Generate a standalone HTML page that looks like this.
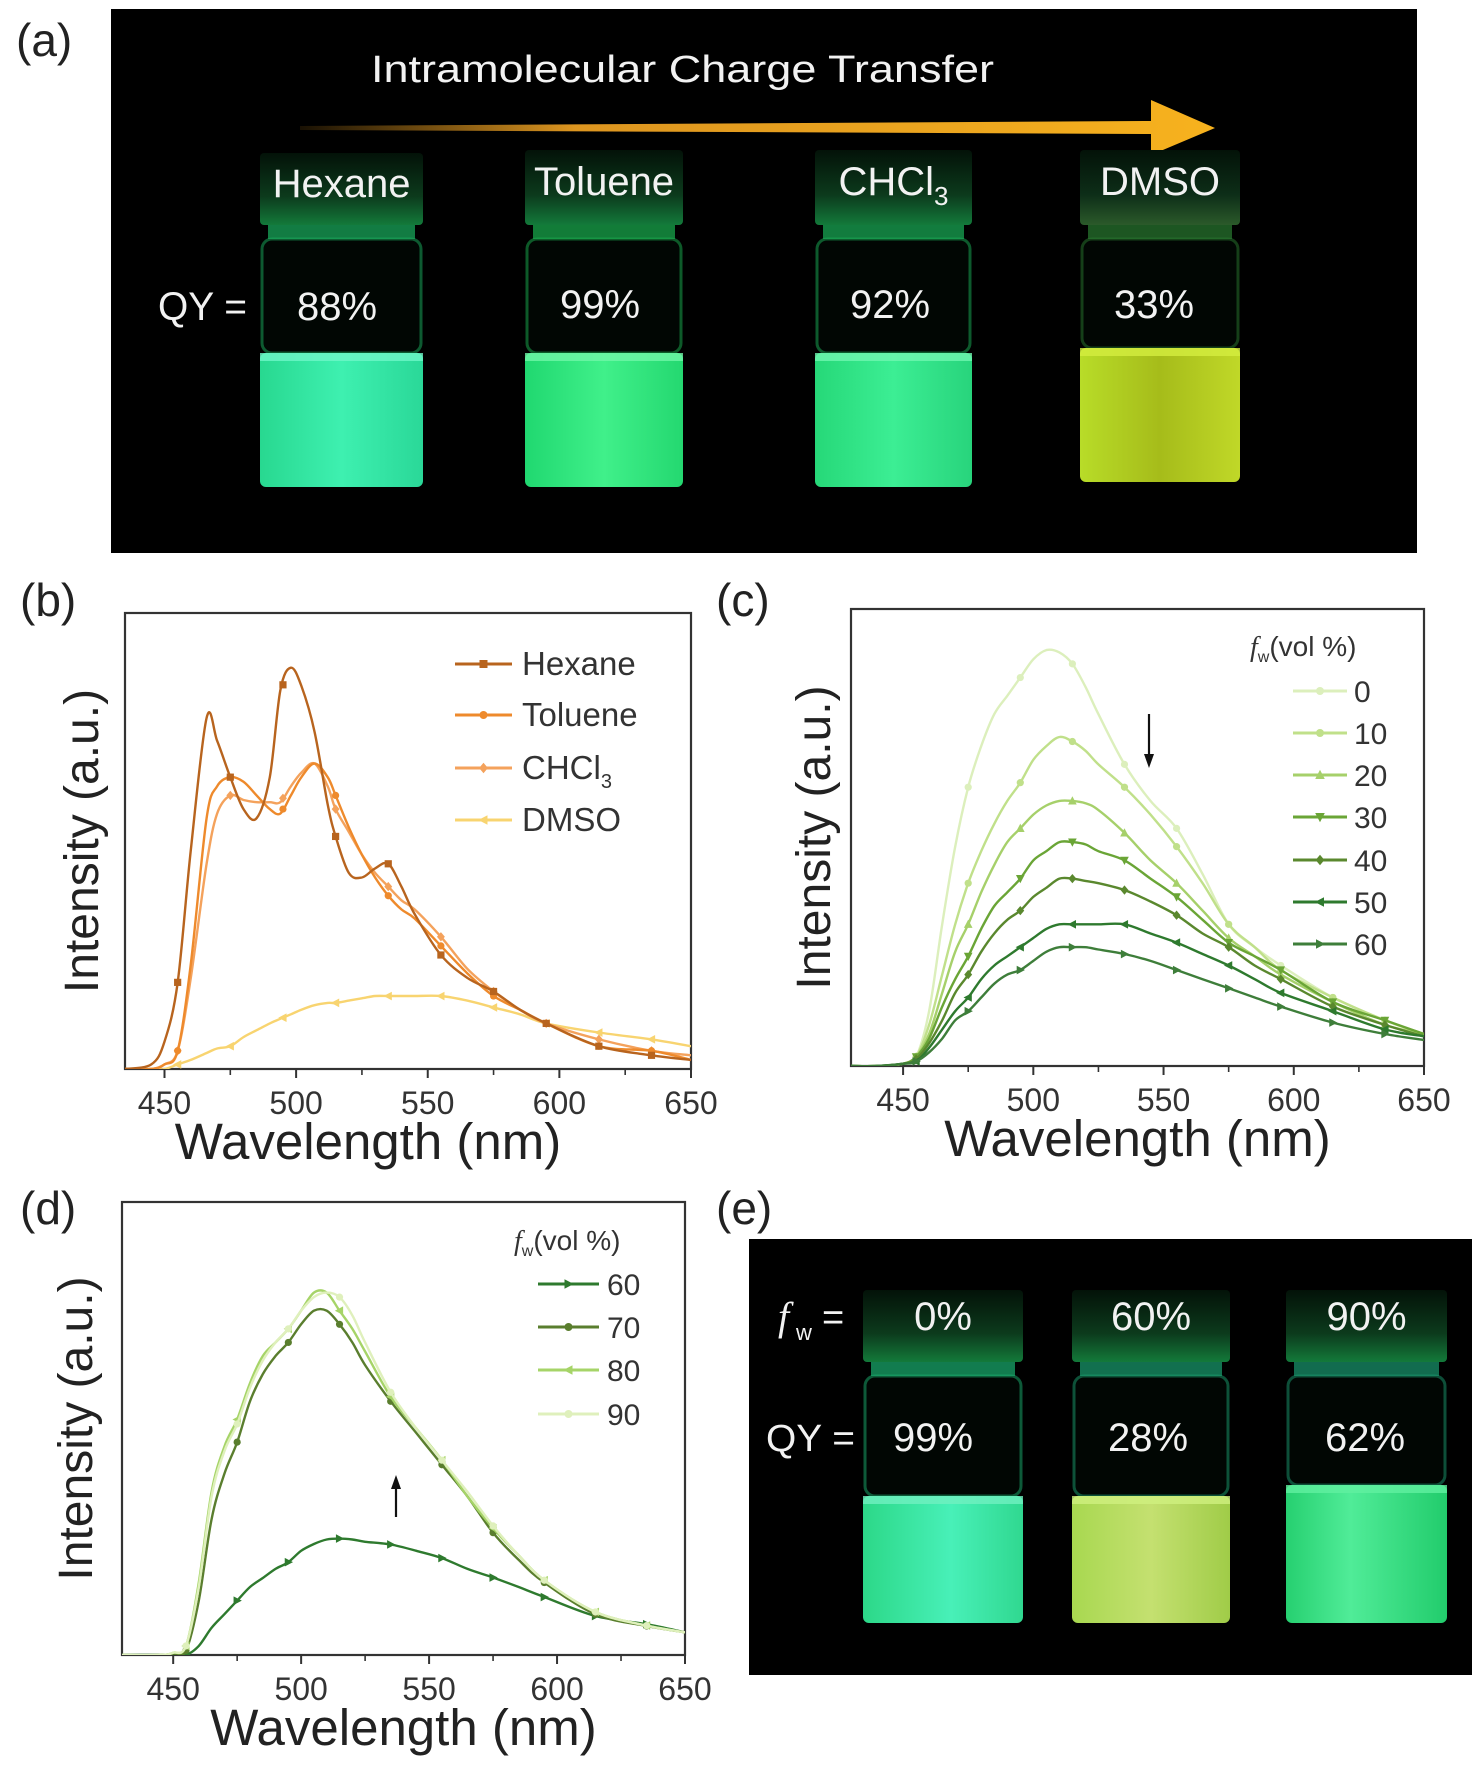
<!DOCTYPE html>
<html><head><meta charset="utf-8">
<style>
html,body{margin:0;padding:0;background:#fff;}
svg{display:block;font-family:"Liberation Sans",sans-serif;}
</style></head>
<body>
<svg id="fig" width="1476" height="1778" viewBox="0 0 1476 1778" xmlns="http://www.w3.org/2000/svg">
<defs>
  <linearGradient id="arrowGrad" x1="0" x2="1" y1="0" y2="0">
    <stop offset="0" stop-color="#f5a623" stop-opacity="0.1"/>
    <stop offset="0.3" stop-color="#f5a623" stop-opacity="0.9"/>
    <stop offset="1" stop-color="#f7b21e"/>
  </linearGradient>
  <linearGradient id="capGrad" x1="0" x2="0" y1="0" y2="1">
    <stop offset="0" stop-color="#031208"/>
    <stop offset="0.6" stop-color="#0c3a1c"/>
    <stop offset="1" stop-color="#137a3a"/>
  </linearGradient>
  <linearGradient id="capGradY" x1="0" x2="0" y1="0" y2="1">
    <stop offset="0" stop-color="#031208"/>
    <stop offset="0.6" stop-color="#0d2e18"/>
    <stop offset="1" stop-color="#2b5a2a"/>
  </linearGradient>
  <linearGradient id="liqHex" x1="0" x2="1"><stop offset="0" stop-color="#28d890"/><stop offset="0.5" stop-color="#3ef0b0"/><stop offset="1" stop-color="#2ad898"/></linearGradient>
  <linearGradient id="liqTol" x1="0" x2="1"><stop offset="0" stop-color="#20d870"/><stop offset="0.5" stop-color="#40f08a"/><stop offset="1" stop-color="#24d870"/></linearGradient>
  <linearGradient id="liqChc" x1="0" x2="1"><stop offset="0" stop-color="#26d878"/><stop offset="0.5" stop-color="#3cee94"/><stop offset="1" stop-color="#28d47c"/></linearGradient>
  <linearGradient id="liqDms" x1="0" x2="1"><stop offset="0" stop-color="#b8dc28"/><stop offset="0.5" stop-color="#a6bc1a"/><stop offset="1" stop-color="#c0d828"/></linearGradient>
  <linearGradient id="liqE0" x1="0" x2="1"><stop offset="0" stop-color="#2cd888"/><stop offset="0.55" stop-color="#48f0b8"/><stop offset="1" stop-color="#30d890"/></linearGradient>
  <linearGradient id="liqE60" x1="0" x2="1"><stop offset="0" stop-color="#a8d850"/><stop offset="0.5" stop-color="#c4e070"/><stop offset="1" stop-color="#a0cc48"/></linearGradient>
  <linearGradient id="liqE90" x1="0" x2="1"><stop offset="0" stop-color="#26d070"/><stop offset="0.4" stop-color="#50ec98"/><stop offset="1" stop-color="#22cc6c"/></linearGradient>
</defs>

<!-- Panel labels -->
<text x="16" y="56" font-size="46" fill="#222">(a)</text>
<text x="20" y="616" font-size="46" fill="#222">(b)</text>
<text x="716" y="616" font-size="46" fill="#222">(c)</text>
<text x="20" y="1224" font-size="46" fill="#222">(d)</text>
<text x="716" y="1224" font-size="46" fill="#222">(e)</text>

<!-- Panel a photo -->
<g>
  <rect x="111" y="9" width="1306" height="544" fill="#000"/>
  <text x="371" y="82" font-size="38" fill="#f2f2f2" textLength="623" lengthAdjust="spacingAndGlyphs">Intramolecular Charge Transfer</text>
  <polygon points="300,126 1151,121 1151,100 1215,128 1151,155 1151,134 300,130" fill="url(#arrowGrad)"/>
  <g id="vialsA"></g>
  <text x="158" y="320" font-size="40" fill="#f2f2f2" textLength="89" lengthAdjust="spacingAndGlyphs">QY =</text>
</g>

<!-- Panel e photo -->
<g>
  <rect x="749" y="1239" width="723" height="436" fill="#000"/>
  <g id="vialsE"></g>
  <text x="778" y="1330" font-size="40" fill="#f2f2f2" font-style="italic" font-family="Liberation Serif, serif">f</text>
  <text x="796" y="1340" font-size="22" fill="#f2f2f2">w</text>
  <text x="822" y="1330" font-size="38" fill="#f2f2f2">=</text>
  <text x="766" y="1451" font-size="38" fill="#f2f2f2" textLength="89" lengthAdjust="spacingAndGlyphs">QY =</text>
</g>

<g id="chartB"></g>
<g id="chartC"></g>
<g id="chartD"></g>
</svg>

<script>
// ---------- Panel b data ----------
const bWavelengths = [435,445,450,455,460,466,470,475,480,485,490,494,498,502,507,512,515,520,525,530,535,540,545,555,565,575,585,595,615,635,650];
const bHexane  = [0,.01,.06,.19,.48,.77,.72,.64,.57,.55,.64,.83,.88,.84,.74,.58,.51,.43,.42,.44,.45,.40,.34,.25,.20,.17,.13,.10,.05,.03,.02];
const bToluene = [0,0,.01,.04,.23,.55,.62,.64,.63,.60,.57,.56,.60,.64,.67,.64,.60,.53,.47,.42,.38,.35,.33,.27,.21,.16,.13,.10,.05,.04,.02];
const bCHCl3   = [0,0,.01,.04,.20,.45,.56,.60,.59,.585,.585,.585,.62,.65,.67,.62,.57,.52,.47,.43,.40,.37,.35,.29,.22,.17,.13,.10,.065,.04,.03];
const bDMSO    = [0,0,0,.01,.02,.035,.045,.05,.07,.085,.10,.11,.12,.13,.14,.145,.145,.15,.155,.16,.16,.16,.16,.16,.15,.135,.12,.10,.08,.065,.05];
const bLabels  = ["Hexane","Toluene","CHCl3","DMSO"];
// ---------- Panel c data ----------
const cWavelengths = [430,440,450,455,460,465,470,475,480,485,490,495,500,505,510,515,520,525,535,545,555,565,575,585,595,615,635,650];
const c0  = [0,0,.005,.02,.12,.31,.48,.61,.70,.77,.81,.85,.89,.91,.905,.88,.83,.77,.66,.58,.52,.42,.31,.26,.22,.15,.10,.07];
const c10 = [0,0,.005,.02,.09,.20,.31,.40,.47,.53,.58,.62,.67,.70,.72,.71,.69,.66,.61,.55,.48,.40,.31,.26,.21,.15,.10,.07];
const c20 = [0,0,.005,.02,.07,.16,.25,.31,.38,.44,.49,.52,.55,.57,.58,.58,.575,.56,.51,.45,.40,.34,.28,.24,.20,.14,.09,.07];
const c30 = [0,0,.005,.02,.06,.13,.19,.24,.30,.35,.38,.41,.45,.47,.49,.49,.485,.47,.45,.41,.37,.32,.27,.24,.21,.14,.10,.07];
const c40 = [0,0,.005,.015,.05,.10,.16,.20,.25,.29,.32,.34,.37,.39,.41,.41,.405,.40,.385,.36,.33,.29,.26,.22,.19,.13,.09,.065];
const c50 = [0,0,.005,.01,.04,.08,.12,.15,.19,.22,.24,.26,.28,.30,.31,.31,.31,.31,.31,.29,.27,.245,.22,.19,.16,.12,.08,.065];
const c60 = [0,0,.005,.01,.03,.06,.10,.12,.15,.18,.20,.21,.23,.25,.26,.26,.26,.255,.245,.23,.21,.19,.17,.15,.13,.095,.07,.057];
const cLabels = ["0","10","20","30","40","50","60"];
// ---------- Panel d data ----------
const dWavelengths = [430,445,450,455,460,465,470,475,480,485,490,495,500,505,510,515,520,525,535,545,555,565,575,585,595,615,635,650];
const d60 = [0,0,0,0,.02,.06,.09,.12,.15,.17,.19,.205,.23,.245,.255,.257,.255,.25,.244,.23,.214,.19,.171,.15,.128,.086,.068,.05];
const d70 = [0,0,.003,.01,.12,.30,.40,.47,.56,.62,.66,.69,.73,.76,.76,.73,.69,.64,.56,.49,.42,.35,.27,.21,.16,.09,.064,.05];
const d80 = [0,0,.005,.02,.16,.36,.46,.52,.60,.66,.69,.72,.76,.80,.80,.76,.72,.67,.57,.50,.43,.35,.28,.22,.165,.095,.065,.05];
const d90 = [0,0,.005,.02,.15,.35,.45,.51,.59,.65,.69,.72,.76,.79,.80,.79,.75,.69,.58,.50,.43,.36,.285,.22,.165,.095,.065,.05];
const dLabels = ["60","70","80","90"];
const xTicks = [450,500,550,600,650];
const xMinor = [475,525,575,625];
const markerWl = [455,475,495,515,535,555,575,595,615,635];

const NS = "http://www.w3.org/2000/svg";
function mk(tag, attrs, parent){
  const e = document.createElementNS(NS, tag);
  for (const k in attrs) e.setAttribute(k, attrs[k]);
  if (parent) parent.appendChild(e);
  return e;
}
function interp(xs, ys, x){
  for (let i=0;i<xs.length-1;i++){
    if (x>=xs[i] && x<=xs[i+1]){ const t=(x-xs[i])/(xs[i+1]-xs[i]); return ys[i]+t*(ys[i+1]-ys[i]); }
  }
  return ys[ys.length-1];
}
function smoothPath(pts){
  let d = "M"+pts[0][0].toFixed(1)+","+pts[0][1].toFixed(1);
  for (let i=0;i<pts.length-1;i++){
    const p0=pts[Math.max(0,i-1)], p1=pts[i], p2=pts[i+1], p3=pts[Math.min(pts.length-1,i+2)];
    const c1=[p1[0]+(p2[0]-p0[0])/6, p1[1]+(p2[1]-p0[1])/6];
    const c2=[p2[0]-(p3[0]-p1[0])/6, p2[1]-(p3[1]-p1[1])/6];
    d += " C"+c1[0].toFixed(1)+","+c1[1].toFixed(1)+" "+c2[0].toFixed(1)+","+c2[1].toFixed(1)+" "+p2[0].toFixed(1)+","+p2[1].toFixed(1);
  }
  return d;
}
function marker(g, shape, x, y, color, s){
  let el;
  if (shape==="square") el = mk("rect",{x:x-s,y:y-s,width:2*s,height:2*s,fill:color},g);
  else if (shape==="circle") el = mk("circle",{cx:x,cy:y,r:s,fill:color},g);
  else {
    let pts;
    if (shape==="diamond") pts=[[x,y-s*1.3],[x+s*1.1,y],[x,y+s*1.3],[x-s*1.1,y]];
    else if (shape==="up") pts=[[x,y-s*1.3],[x+s*1.2,y+s],[x-s*1.2,y+s]];
    else if (shape==="down") pts=[[x,y+s*1.3],[x+s*1.2,y-s],[x-s*1.2,y-s]];
    else if (shape==="left") pts=[[x-s*1.3,y],[x+s,y-s*1.2],[x+s,y+s*1.2]];
    else pts=[[x+s*1.3,y],[x-s,y-s*1.2],[x-s,y+s*1.2]];
    el = mk("polygon",{points:pts.map(p=>p.join(",")).join(" "),fill:color},g);
  }
  return el;
}

function drawChart(gid, cfg){
  const g = document.getElementById(gid);
  const L=cfg.left, R=cfg.right, T=cfg.top, B=cfg.bottom;
  const X = v => L + (v-cfg.xmin)/(650-cfg.xmin)*(R-L);
  const Y = v => B - v*(B-T);
  const frame = mk("rect",{x:L,y:T,width:R-L,height:B-T,fill:"none",stroke:"#333","stroke-width":2.2},g);
  
  
  xTicks.forEach(v=>{
    mk("line",{x1:X(v),x2:X(v),y1:B,y2:B+9,stroke:"#333","stroke-width":2},g);
    const t = mk("text",{x:X(v),y:B+45,"font-size":32,fill:"#333","text-anchor":"middle"},g);
    t.textContent = v;
    
    
  });
  xMinor.forEach(v=>{ mk("line",{x1:X(v),x2:X(v),y1:B,y2:B+6,stroke:"#333","stroke-width":1.6},g); });
  const xt = mk("text",{x:(L+R)/2+cfg.xtDx,y:B+90,"font-size":51,fill:"#222","text-anchor":"middle"},g);
  xt.textContent = "Wavelength (nm)";
  
  
  const yt = mk("text",{x:0,y:0,"font-size":48,fill:"#222","text-anchor":"middle",transform:"translate("+cfg.ytX+","+((T+B)/2+cfg.ytDy)+") rotate(-90)"},g);
  yt.textContent = "Intensity (a.u.)";
  
  
  const clip = "clip"+gid;
  const cp = mk("clipPath",{id:clip},g); mk("rect",{x:L,y:T,width:R-L,height:B-T},cp);
  const sg = mk("g",{"clip-path":"url(#"+clip+")"},g);
  const order = cfg.series.map((s,i)=>i);
  if (cfg.drawReverse) order.reverse();
  order.forEach(i=>{
    const s = cfg.series[i];
    const pts = cfg.xs.map((x,j)=>[X(x),Y(s.ys[j])]);
    const p = mk("path",{d:smoothPath(pts),fill:"none",stroke:s.color,"stroke-width":2.4,"stroke-linejoin":"round"},sg);
    
    
    markerWl.forEach(w=>{
      const m = marker(sg, s.shape, X(w), Y(interp(cfg.xs,s.ys,w)), s.color, 3.6);
      
      
    });
  });
  if (cfg.legTitle){
    const lt = mk("text",{x:cfg.legTitleX,y:cfg.legTitleY,"font-size":28,fill:"#333"},g);
    
    
    const f = mk("tspan",{"font-style":"italic","font-family":"Liberation Serif, serif"},lt); f.textContent="f";
    const w = mk("tspan",{"font-size":16,dy:6},lt); w.textContent="w";
    const r = mk("tspan",{dy:-6},lt); r.textContent="(vol %)";
  }
  cfg.series.forEach((s,i)=>{
    const y = cfg.legY[i];
    const le = mk("g",{},g);
    
    
    mk("line",{x1:cfg.legX1,x2:cfg.legX2,y1:y,y2:y,stroke:s.color,"stroke-width":3},le);
    marker(le, s.shape, (cfg.legX1+cfg.legX2)/2, y, s.color, 4);
    const t = mk("text",{x:cfg.legTx,y:y+11,"font-size":cfg.legFs,fill:"#333"},le);
    if (s.name==="CHCl3"){ t.textContent="CHCl"; const sb=mk("tspan",{"font-size":20,dy:9},t); sb.textContent="3"; }
    else t.textContent = s.name;
  });
  if (cfg.arrow){
    const a = cfg.arrow;
    const ag = mk("g",{},g);
    
    
    mk("line",{x1:a.x,x2:a.x,y1:a.y1,y2:a.y2+(a.y2>a.y1?-10:10),stroke:"#111","stroke-width":2.2},ag);
    const dir = a.y2>a.y1?1:-1;
    mk("polygon",{points:[[a.x,a.y2],[a.x-5,a.y2-dir*14],[a.x+5,a.y2-dir*14]].map(p=>p.join(",")).join(" "),fill:"#111"},ag);
  }
}

drawChart("chartB",{left:125,right:691,top:613,bottom:1069,xmin:435,xs:bWavelengths,xtDx:-40,ytX:98,ytDy:0,
  series:[{name:"Hexane",ys:bHexane,color:"#b8641e",shape:"square"},
          {name:"Toluene",ys:bToluene,color:"#ee8a2c",shape:"circle"},
          {name:"CHCl3",ys:bCHCl3,color:"#f4a25c",shape:"diamond"},
          {name:"DMSO",ys:bDMSO,color:"#f8d470",shape:"left"}],
  drawReverse:true,legX1:455,legX2:512,legTx:522,legY:[664,715,768,820],legFs:33});
drawChart("chartC",{left:851,right:1424,top:609,bottom:1066,xmin:430,xs:cWavelengths,xtDx:0,ytX:830,ytDy:0,
  series:[{name:"0",ys:c0,color:"#dcefbc",shape:"circle"},
          {name:"10",ys:c10,color:"#c0e08a",shape:"circle"},
          {name:"20",ys:c20,color:"#a6d06a",shape:"up"},
          {name:"30",ys:c30,color:"#6aa536",shape:"down"},
          {name:"40",ys:c40,color:"#5a882e",shape:"diamond"},
          {name:"50",ys:c50,color:"#2e7a2e",shape:"left"},
          {name:"60",ys:c60,color:"#3e7e3a",shape:"right"}],
  legTitle:true,legTitleX:1250,legTitleY:656,legX1:1293,legX2:1347,legTx:1354,legY:[691,733,775,817,860,902,944],legFs:30,
  arrow:{x:1149,y1:714,y2:768}});
drawChart("chartD",{left:122,right:685,top:1202,bottom:1655,xmin:430,xs:dWavelengths,xtDx:0,ytX:92,ytDy:0,
  series:[{name:"60",ys:d60,color:"#2e7a2e",shape:"right"},
          {name:"70",ys:d70,color:"#5a7e2e",shape:"circle"},
          {name:"80",ys:d80,color:"#a6d468",shape:"left"},
          {name:"90",ys:d90,color:"#dff0bc",shape:"circle"}],
  legTitle:true,legTitleX:514,legTitleY:1250,legX1:538,legX2:599,legTx:607,legY:[1284,1327,1370,1414],legFs:30,
  arrow:{x:396,y1:1517,y2:1475}});

// ---------- Vials ----------
function vial(gid, v){
  const g = document.getElementById(gid);
  const vg = mk("g",{},g);
  
  
  const w = v.x2-v.x1;
  mk("rect",{x:v.x1,y:v.capTop,width:w,height:v.capBot-v.capTop,rx:4,fill:v.capFill},vg);
  mk("rect",{x:v.x1+8,y:v.capBot,width:w-16,height:14,fill:v.neck,opacity:0.7},vg);
  mk("rect",{x:v.x1+2,y:v.capBot+14,width:w-4,height:v.liqTop-v.capBot-14,rx:10,fill:"#010603",stroke:v.neck,"stroke-opacity":0.5,"stroke-width":3},vg);
  mk("rect",{x:v.x1,y:v.liqTop,width:w,height:v.bottom-v.liqTop,rx:6,fill:v.liq},vg);
  mk("rect",{x:v.x1,y:v.liqTop,width:w,height:8,fill:v.rim,opacity:0.8},vg);
  const t = mk("text",{x:(v.x1+v.x2)/2,y:v.labelY,"font-size":40,fill:"#f2f2f2","text-anchor":"middle"},vg);
  if (v.label==="CHCl3"){ t.textContent="CHCl"; const s=mk("tspan",{"font-size":26,dy:10},t); s.textContent="3"; }
  else t.textContent=v.label;
  
  
  const q = mk("text",{x:v.qyX,y:v.qyY,"font-size":40,fill:"#f2f2f2","text-anchor":"middle"},vg);
  q.textContent = v.qy;
  
  
}
vial("vialsA",{id:"hexane",x1:260,x2:423,capTop:153,capBot:225,capFill:"url(#capGrad)",neck:"#1ab060",liqTop:353,bottom:487,liq:"url(#liqHex)",rim:"#6ff6c8",label:"Hexane",labelY:197,qy:"88%",qyX:337,qyY:320});
vial("vialsA",{id:"toluene",x1:525,x2:683,capTop:150,capBot:225,capFill:"url(#capGrad)",neck:"#1ab050",liqTop:353,bottom:487,liq:"url(#liqTol)",rim:"#70f6a8",label:"Toluene",labelY:195,qy:"99%",qyX:600,qyY:318});
vial("vialsA",{id:"chcl3",x1:815,x2:972,capTop:150,capBot:225,capFill:"url(#capGrad)",neck:"#1ab058",liqTop:353,bottom:487,liq:"url(#liqChc)",rim:"#70f6b0",label:"CHCl3",labelY:195,qy:"92%",qyX:890,qyY:318});
vial("vialsA",{id:"dmso",x1:1080,x2:1240,capTop:150,capBot:225,capFill:"url(#capGradY)",neck:"#2a7a30",liqTop:348,bottom:482,liq:"url(#liqDms)",rim:"#d4ee40",label:"DMSO",labelY:195,qy:"33%",qyX:1154,qyY:318});
vial("vialsE",{id:"fw0",x1:863,x2:1023,capTop:1290,capBot:1362,capFill:"url(#capGrad)",neck:"#1ab070",liqTop:1496,bottom:1623,liq:"url(#liqE0)",rim:"#70f0c0",label:"0%",labelY:1330,qy:"99%",qyX:933,qyY:1451});
vial("vialsE",{id:"fw60",x1:1072,x2:1230,capTop:1290,capBot:1362,capFill:"url(#capGrad)",neck:"#1aa070",liqTop:1496,bottom:1623,liq:"url(#liqE60)",rim:"#d0f080",label:"60%",labelY:1330,qy:"28%",qyX:1148,qyY:1451});
vial("vialsE",{id:"fw90",x1:1286,x2:1447,capTop:1290,capBot:1362,capFill:"url(#capGrad)",neck:"#1a9a70",liqTop:1485,bottom:1623,liq:"url(#liqE90)",rim:"#60f0a0",label:"90%",labelY:1330,qy:"62%",qyX:1365,qyY:1451});
</script>
</body></html>
